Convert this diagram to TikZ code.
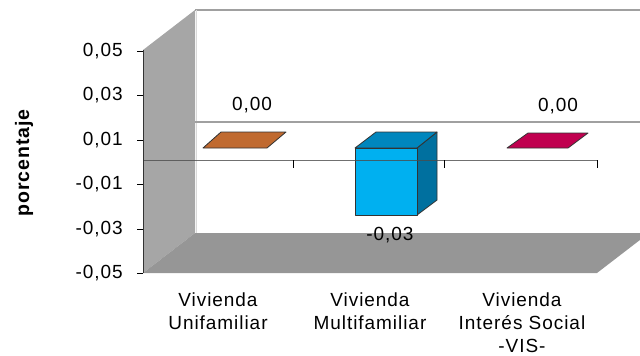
\documentclass[tikz,border=0pt]{standalone}
\usepackage{fontspec}
\setmainfont{Liberation Sans}[LetterSpace=5]
\begin{document}
\begin{tikzpicture}[x=1pt,y=-1pt,
  lbl/.style={font=\fontsize{19}{23}\selectfont, inner sep=0pt},
  cat/.style={lbl, align=center, anchor=north},
  ylab/.style={lbl, anchor=east},
  barline/.style={draw=black!80, line width=0.8pt, line join=round},
]
\definecolor{wallL}{HTML}{A6A6A6}
\definecolor{floorC}{HTML}{969696}
\definecolor{gridC}{HTML}{A0A0A0}
\definecolor{orangeC}{HTML}{C06A30}
\definecolor{blueF}{HTML}{00B0F0}
\definecolor{blueT}{HTML}{0086BD}
\definecolor{blueS}{HTML}{00709F}
\definecolor{magC}{HTML}{C0004F}
\useasboundingbox (0,0) rectangle (640,356);
\begin{scope}
\clip (0,0) rectangle (640,356);
% back wall
\draw[gridC, line width=1.2pt] (195,10) -- (660,10);
\draw[gridC!40, line width=1pt] (196,10) -- (196,233);
% left wall
\fill[wallL] (143,50) -- (195,10) -- (195,233) -- (143,273) -- cycle;
% floor
\fill[floorC] (143,273) -- (195,233) -- (649,233) -- (597,273) -- cycle;
% back gridline (zero)
\draw[gridC, line width=1.5pt] (195,122) -- (660,122);
% bars
\filldraw[barline, fill=orangeC] (203,148) -- (267,148) -- (286,132) -- (221,132) -- cycle;
\filldraw[barline, fill=magC] (507,148) -- (568,148) -- (588,133) -- (528,133) -- cycle;
\filldraw[barline, fill=blueS] (417,148) -- (437,132) -- (437,200) -- (417,215) -- cycle;
\filldraw[barline, fill=blueT] (355,148) -- (417,148) -- (437,132) -- (376,132) -- cycle;
\filldraw[barline, fill=blueF] (355,148) rectangle (417,215);
% category axis
\draw[black!70, opacity=0.8, line width=1pt] (143,160) -- (597,160);
\foreach \x in {143,293,444,597} \draw[black, line width=1pt] (\x,160) -- (\x,168);
% value axis
\draw[black!80, line width=1pt] (143,50) -- (143,273);
\foreach \y in {51,95.5,140,184.5,229,273} \draw[black, line width=1pt] (137,\y) -- (143,\y);
\end{scope}
% y labels
\node[ylab] (y1) at (123,51) {0,05};
\node[ylab] (y2) at (123,95.5) {0,03};
\node[ylab] (y3) at (123,140) {0,01};
\node[ylab] (y4) at (123,184.5) {-0,01};
\node[ylab] (y5) at (123,229) {-0,03};
\node[ylab] (y6) at (123,273) {-0,05};
% axis title
\node[font=\fontsize{19.5}{23}\selectfont\bfseries, rotate=90, inner sep=0pt] (yt) at (24,163) {porcentaje};
% data labels
\node[lbl] (d1) at (252,105) {0,00};
\node[lbl] (d2) at (558,106) {0,00};
\node[lbl] (d3) at (390,235) {-0,03};
% category labels
\node[cat] (c1) at (218,293) {Vivienda\\Unifamiliar};
\node[cat] (c2) at (370,293) {Vivienda\\Multifamiliar};
\node[cat] (c3) at (522,293) {Vivienda\\Interés Social\\-VIS-};
\end{tikzpicture}
\end{document}
